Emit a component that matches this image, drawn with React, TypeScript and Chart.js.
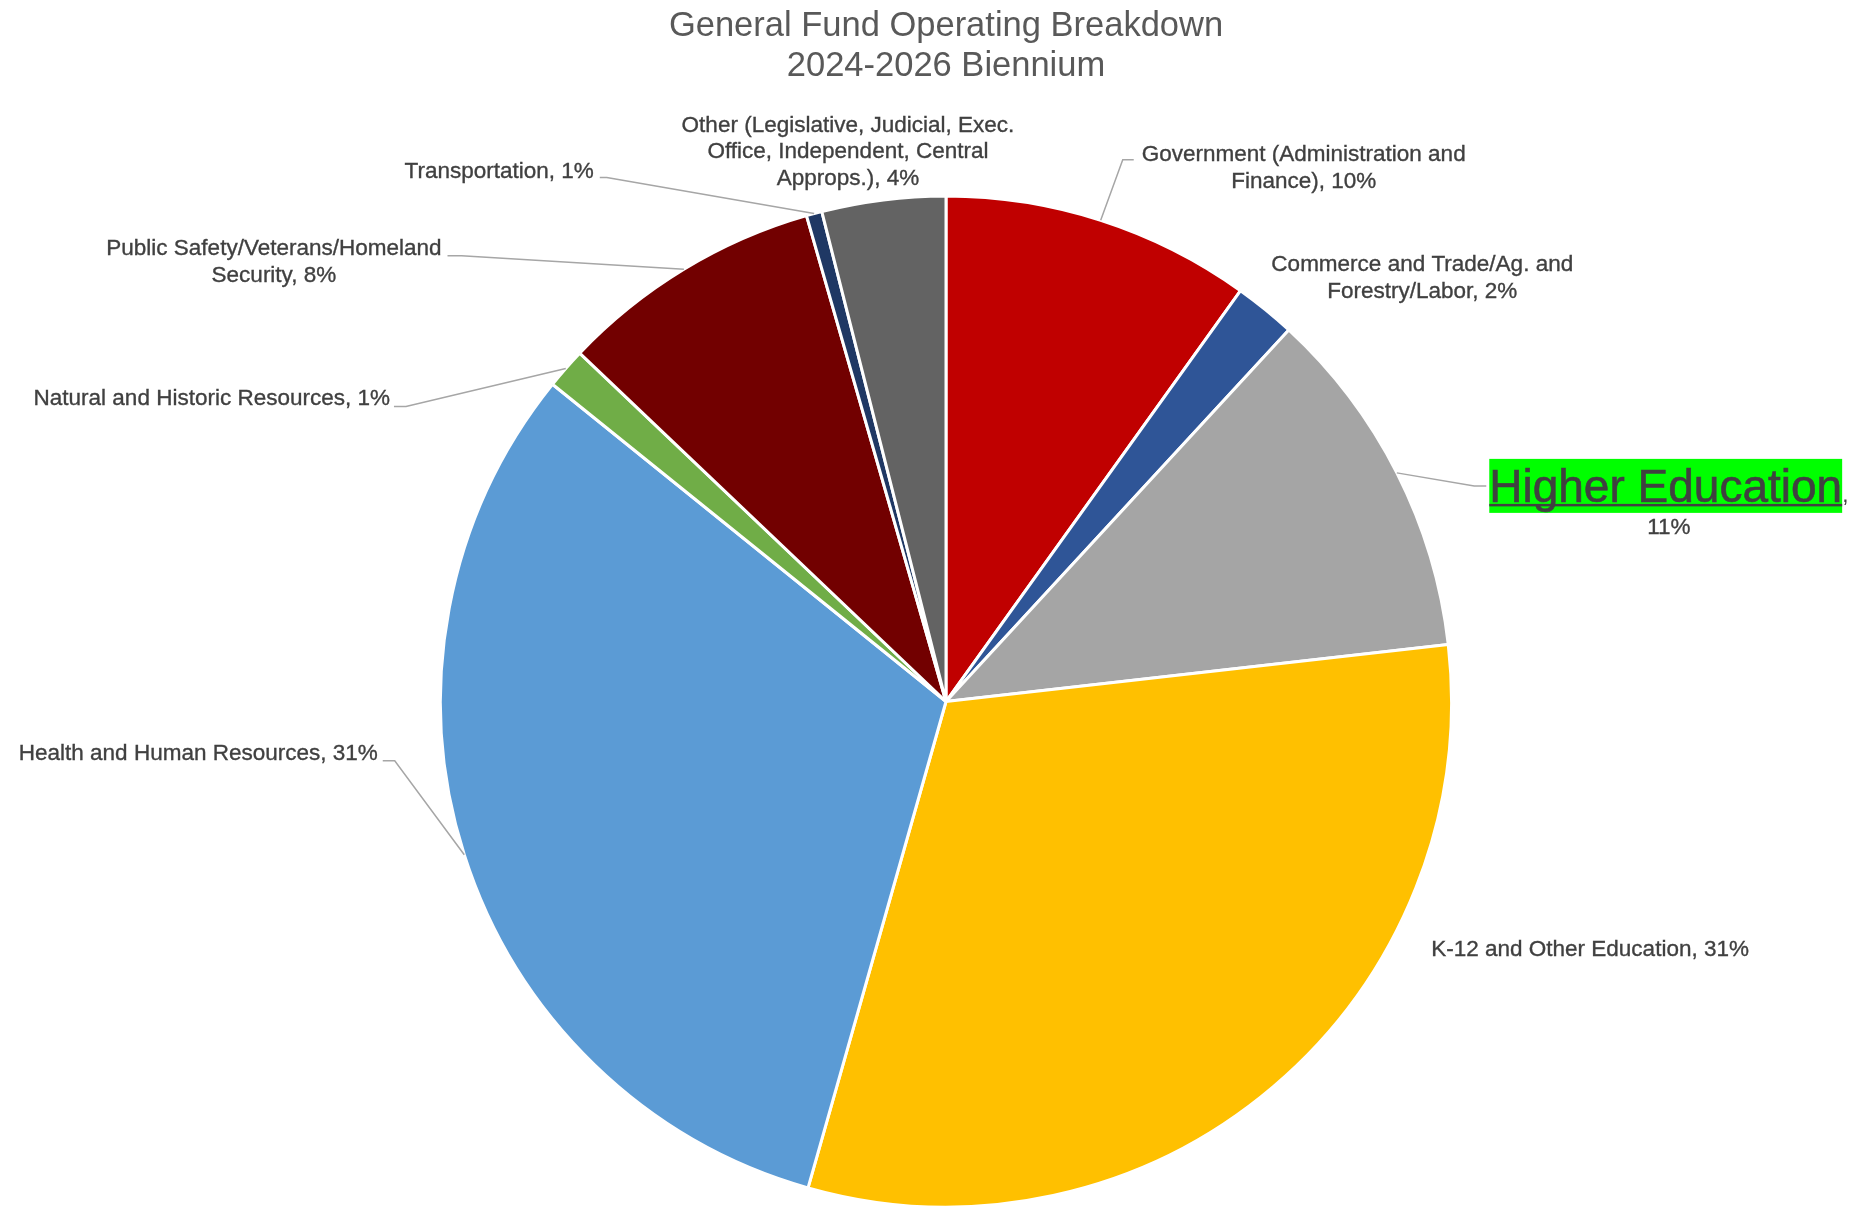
import React, { useEffect, useRef } from "react";
import { Chart, registerables } from "chart.js";

Chart.register(...registerables);

const titleLines = ["General Fund Operating Breakdown", "2024-2026 Biennium"];

const categories = [
  "Government (Administration and Finance)",
  "Commerce and Trade/Ag. and Forestry/Labor",
  "Higher Education",
  "K-12 and Other Education",
  "Health and Human Resources",
  "Natural and Historic Resources",
  "Public Safety/Veterans/Homeland Security",
  "Transportation",
  "Other (Legislative, Judicial, Exec. Office, Independent, Central Approps.)",
];

// how each category name wraps in its data label
const categoryLines = [
  ["Government (Administration and", "Finance)"],
  ["Commerce and Trade/Ag. and", "Forestry/Labor"],
  ["Higher Education"],
  ["K-12 and Other Education"],
  ["Health and Human Resources"],
  ["Natural and Historic Resources"],
  ["Public Safety/Veterans/Homeland", "Security"],
  ["Transportation"],
  ["Other (Legislative, Judicial, Exec.", "Office, Independent, Central", "Approps.)"],
];

// share of the general fund, percent
const shares = [9.9, 1.96, 11.34, 31.2, 31.4, 1.3, 8.45, 0.5, 3.95];

const sliceColors = [
  "#C00000",
  "#2F5597",
  "#A5A5A5",
  "#FFC000",
  "#5B9BD5",
  "#70AD47",
  "#720000",
  "#1F3864",
  "#636363",
];

const FONT = '"Liberation Sans", Arial, sans-serif';
const LABEL_COLOR = "#404040";
const LEADER_COLOR = "#A6A6A6";
const LABEL_SIZE = 22.5;
const LABEL_LH = 26.5;

// label placement relative to the outer midpoint of each slice
const labelLayout: any[] = [
  { dx: 203, dy: -52, leader: { side: "left", dy: -8.5, g1: 8, g2: 19 } },
  { dx: 157, dy: -31.5 },
  { dx: 272, dy: 13, highlight: true, leader: { side: "left", dy: 0, g1: 3, g2: 15 } },
  { dx: 317, dy: -137 },
  { dx: -266, dy: -101, leader: { side: "right", dy: 7, g1: 5, g2: 17 } },
  { dx: -354, dy: 30, leader: { side: "right", dy: 8, g1: 4, g2: 16 } },
  { dx: -410, dy: -7, leader: { side: "right", dy: -6.5, g1: 6, g2: 20 } },
  { dx: -315, dy: -42, leader: { side: "right", dy: 6, g1: 6, g2: 13 } },
  { dx: -35.5, dy: -48 },
];

const labelPlugin = {
  id: "pieLabels",
  afterDatasetsDraw(chart: any) {
    const ctx = chart.ctx;
    const meta = chart.getDatasetMeta(0);
    const data = chart.data.datasets[0].data as number[];
    const total = data.reduce((a, b) => a + b, 0);
    const smallFont = `normal ${LABEL_SIZE}px ${FONT}`;
    const bigFont = `normal 46px ${FONT}`;
    meta.data.forEach((arc: any, i: number) => {
      const p = arc.getProps(["x", "y", "startAngle", "endAngle", "outerRadius"], true);
      const mid = (p.startAngle + p.endAngle) / 2;
      const ex = p.x + Math.cos(mid) * p.outerRadius;
      const ey = p.y + Math.sin(mid) * p.outerRadius;
      const lay = labelLayout[i];
      const cx = ex + lay.dx;
      const cy = ey + lay.dy;
      const pct = Math.round((data[i] / total) * 100) + "%";
      const names = categoryLines[i];
      ctx.save();
      let left = 0;
      let right = 0;
      if (lay.highlight) {
        ctx.font = bigFont;
        const wN = ctx.measureText(names[0]).width;
        ctx.font = smallFont;
        const wc = ctx.measureText(",").width;
        const x0 = cx - (wN + wc) / 2;
        left = x0;
        right = x0 + wN + wc;
        ctx.fillStyle = "#00FF00";
        ctx.fillRect(x0, cy - 27, wN, 54);
        const base = cy + 16;
        ctx.fillStyle = LABEL_COLOR;
        ctx.strokeStyle = LABEL_COLOR;
        ctx.lineWidth = 0.6;
        ctx.textAlign = "left";
        ctx.textBaseline = "alphabetic";
        ctx.font = bigFont;
        ctx.fillText(names[0], x0, base);
        ctx.strokeText(names[0], x0, base);
        ctx.fillRect(x0, base + 2, wN, 2.5);
        ctx.font = smallFont;
        ctx.fillText(",", x0 + wN, base);
        ctx.textAlign = "center";
        ctx.textBaseline = "middle";
        ctx.fillText(pct, cx, cy + 42);
        ctx.lineWidth = 0.35;
        ctx.strokeText(pct, cx, cy + 42);
      } else {
        const lines = names.slice();
        lines[lines.length - 1] = lines[lines.length - 1] + ", " + pct;
        ctx.font = smallFont;
        ctx.fillStyle = LABEL_COLOR;
        ctx.strokeStyle = LABEL_COLOR;
        ctx.lineWidth = 0.35;
        ctx.textAlign = "center";
        ctx.textBaseline = "middle";
        let w = 0;
        lines.forEach((t: string, k: number) => {
          w = Math.max(w, ctx.measureText(t).width);
          const ty = cy + (k - (lines.length - 1) / 2) * LABEL_LH;
          ctx.fillText(t, cx, ty);
          ctx.strokeText(t, cx, ty);
        });
        left = cx - w / 2;
        right = cx + w / 2;
      }
      if (lay.leader) {
        const L = lay.leader;
        const ly = cy + L.dy;
        const s = L.side === "left" ? left - L.g1 : right + L.g1;
        const e = L.side === "left" ? left - L.g2 : right + L.g2;
        ctx.strokeStyle = LEADER_COLOR;
        ctx.lineWidth = 1.5;
        ctx.beginPath();
        ctx.moveTo(s, ly);
        ctx.lineTo(e, ly);
        ctx.lineTo(ex, ey);
        ctx.stroke();
      }
      ctx.restore();
    });
  },
};

export default function App() {
  const ref = useRef<HTMLCanvasElement | null>(null);
  useEffect(() => {
    if (!ref.current) return;
    const chart = new Chart(ref.current, {
      type: "pie",
      data: {
        labels: categories,
        datasets: [
          {
            data: shares,
            backgroundColor: sliceColors,
            borderColor: "#FFFFFF",
            borderWidth: 3,
          },
        ],
      },
      options: {
        animation: false,
        responsive: true,
        maintainAspectRatio: false,
        radius: 505.5,
        layout: { padding: { left: 440, right: 400, top: 0, bottom: 0 } },
        plugins: {
          legend: { display: false },
          tooltip: { enabled: false },
          title: {
            display: true,
            text: titleLines,
            color: "#595959",
            font: { family: FONT, size: 34.5, weight: "normal", lineHeight: 1.16 },
            padding: { top: 6, bottom: 110 },
          },
        },
      } as any,
      plugins: [labelPlugin],
    });
    return () => chart.destroy();
  }, []);
  return (
    <div style={{ position: "absolute", left: 0, top: 0, width: 1852, height: 1207, background: "#FFFFFF" }}>
      <canvas ref={ref} />
    </div>
  );
}
